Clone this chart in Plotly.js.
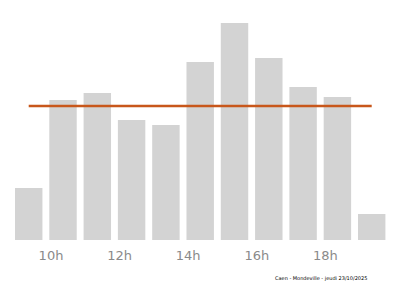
<!DOCTYPE html>
<html>
<head>
<meta charset="utf-8">
<script src="https://cdn.plot.ly/plotly-3.0.1.min.js"></script>
<style>html,body{margin:0;padding:0;background:#fff}#chart{width:400px;height:286px}</style>
</head>
<body>
<div id="chart"></div>
<script>
const hours = [9, 10, 11, 12, 13, 14, 15, 16, 17, 18, 19];
const affluence = [52, 140, 147, 120, 115, 178, 217, 182, 153, 143, 26];
const averageLevel = 134;
const tickHours = [10, 12, 14, 16, 18];
const tickLabels = ['10h', '12h', '14h', '16h', '18h'];
const caption = 'Caen - Mondeville - jeudi 23/10/2025';

const barWidth = 0.8, barOffset = -0.05;
const lineX = [hours[0] + barOffset + barWidth / 2, hours[hours.length - 1] + barOffset + barWidth / 2];

const traces = [
  {
    type: 'bar', x: hours, y: affluence,
    width: barWidth, offset: barOffset,
    marker: {color: '#d3d3d3', line: {width: 0}},
    hoverinfo: 'skip'
  },
  {
    type: 'scatter', mode: 'lines',
    x: lineX, y: [averageLevel, averageLevel],
    line: {color: '#c8571b', width: 2.5},
    hoverinfo: 'skip'
  }
];

const layout = {
  width: 400, height: 286,
  margin: {l: 0, r: 0, t: 0, b: 46},
  paper_bgcolor: '#fff', plot_bgcolor: '#fff',
  showlegend: false,
  xaxis: {
    range: [8.513, 20.175],
    tickvals: tickHours, ticktext: tickLabels,
    showgrid: false, zeroline: false, showline: false, ticks: '',
    tickfont: {family: 'DejaVu Sans', size: 13, color: '#8a8a8a'},
    ticklabelstandoff: 6
  },
  yaxis: {
    range: [0, 240], visible: false, showgrid: false, zeroline: false
  },
  annotations: [{
    text: caption, xref: 'paper', yref: 'paper',
    x: 0.803, y: -0.16, xanchor: 'center', yanchor: 'middle',
    showarrow: false, font: {family: 'DejaVu Sans', size: 5, color: '#000'}
  }]
};

Plotly.newPlot('chart', traces, layout, {staticPlot: true, displayModeBar: false});
</script>
</body>
</html>
